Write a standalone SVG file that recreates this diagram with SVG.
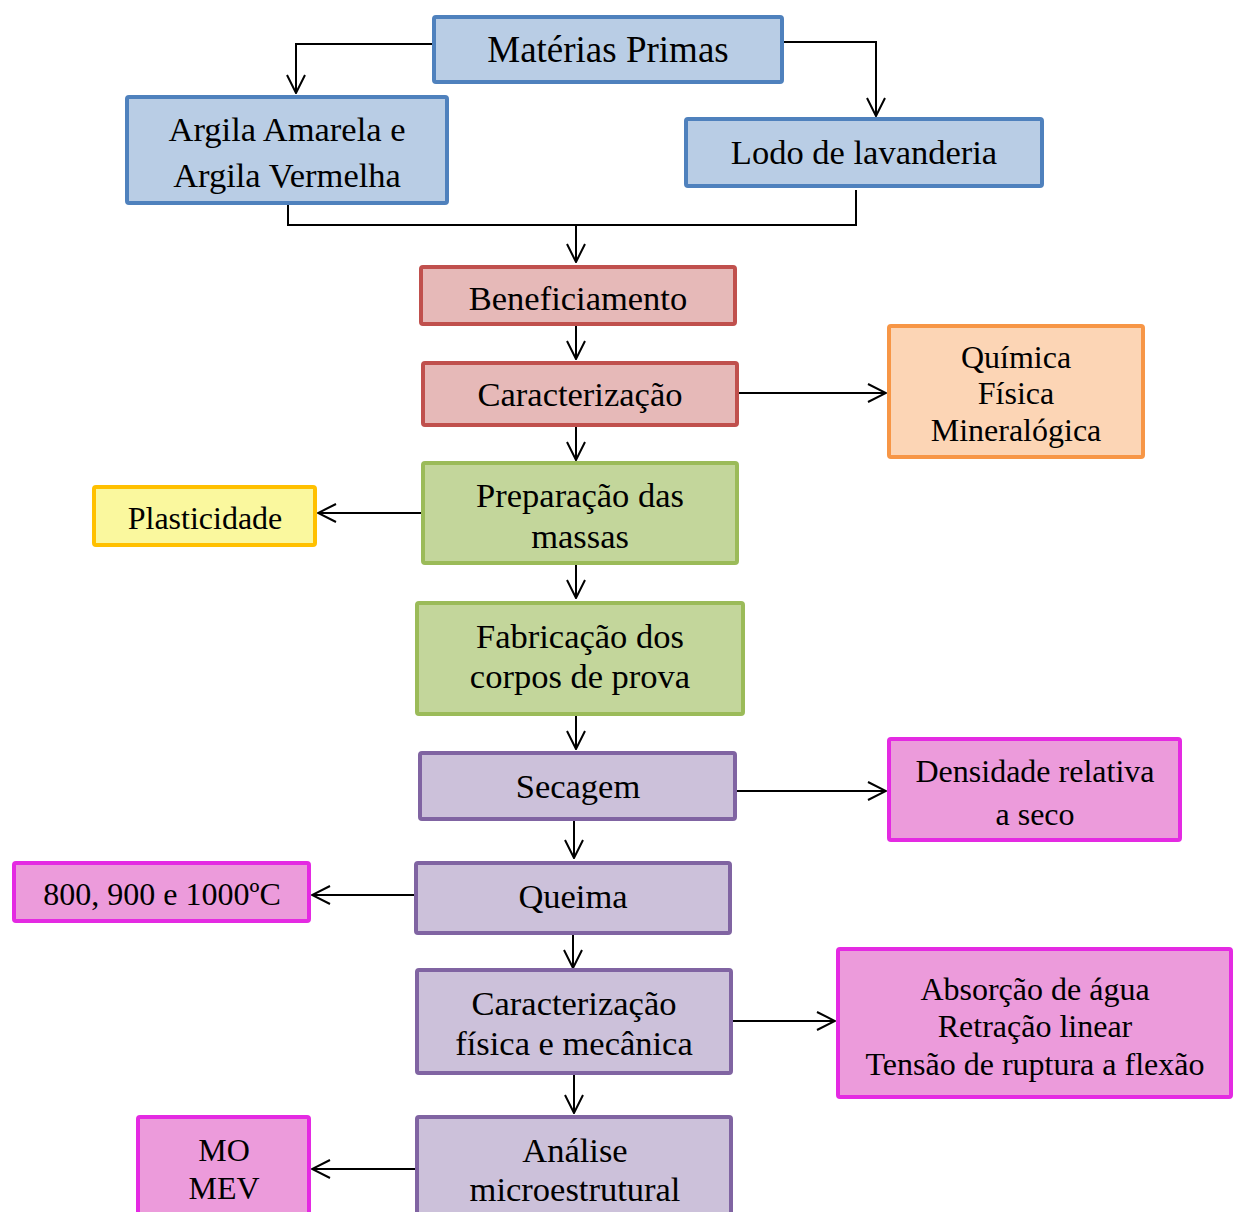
<svg xmlns="http://www.w3.org/2000/svg" width="1237" height="1212" viewBox="0 0 1237 1212">
<defs>
<style>
.t{font-family:"Liberation Serif","Times New Roman",serif;fill:#000;text-anchor:middle}
.m{font-size:34.5px}
.s{font-size:32px}
.big{font-size:37px}
rect{stroke-width:4}
.blue{fill:#B9CDE5;stroke:#4F81BD}
.red{fill:#E6B9B8;stroke:#C0504D}
.orange{fill:#FCD5B5;stroke:#F79646}
.green{fill:#C3D69B;stroke:#9BBB59}
.yellow{fill:#FAF89E;stroke:#FFC000}
.purple{fill:#CCC1DA;stroke:#8064A2}
.pink{fill:#EC9BDB;stroke:#E42AE2}
.c{fill:none;stroke:#000;stroke-width:2}
</style>
<marker id="a" viewBox="0 0 20 20" refX="19" refY="10" markerWidth="20" markerHeight="20" markerUnits="userSpaceOnUse" orient="auto">
<path d="M1,1 L19,10 L1,19" fill="none" stroke="#000" stroke-width="2"/>
</marker>
</defs>
<rect width="1237" height="1212" fill="#fff"/>
<g id="connectors">
<path class="c" d="M432,44 H296 V93" marker-end="url(#a)"/>
<path class="c" d="M784,42 H876 V116" marker-end="url(#a)"/>
<path class="c" d="M288,205 V225 H856 V190"/>
<path class="c" d="M576,225 V262" marker-end="url(#a)"/>
<path class="c" d="M576,326 V359" marker-end="url(#a)"/>
<path class="c" d="M576,427 V460" marker-end="url(#a)"/>
<path class="c" d="M739,393 H886" marker-end="url(#a)"/>
<path class="c" d="M421,513 H318" marker-end="url(#a)"/>
<path class="c" d="M576,565 V598" marker-end="url(#a)"/>
<path class="c" d="M576,716 V749" marker-end="url(#a)"/>
<path class="c" d="M737,791 H886" marker-end="url(#a)"/>
<path class="c" d="M574,821 V858" marker-end="url(#a)"/>
<path class="c" d="M414,895 H312" marker-end="url(#a)"/>
<path class="c" d="M573,935 V968" marker-end="url(#a)"/>
<path class="c" d="M733,1021 H835" marker-end="url(#a)"/>
<path class="c" d="M574,1075 V1113" marker-end="url(#a)"/>
<path class="c" d="M415,1169 H312" marker-end="url(#a)"/>
</g>
<g id="materias"><rect class="blue" x="434" y="17" width="348" height="65" rx="2"/><text class="t big" x="608" y="62">Matérias Primas</text></g>
<g id="argila"><rect class="blue" x="127" y="97" width="320" height="106" rx="2"/><text class="t m" x="287" y="141">Argila Amarela e</text><text class="t m" x="287" y="187">Argila Vermelha</text></g>
<g id="lodo"><rect class="blue" x="686" y="119" width="356" height="67" rx="2"/><text class="t m" x="864" y="164">Lodo de lavanderia</text></g>
<g id="beneficiamento"><rect class="red" x="421" y="267" width="314" height="57" rx="2"/><text class="t m" x="578" y="310">Beneficiamento</text></g>
<g id="caracterizacao"><rect class="red" x="423" y="363" width="314" height="62" rx="2"/><text class="t m" x="580" y="406">Caracterização</text></g>
<g id="quimica"><rect class="orange" x="889" y="326" width="254" height="131" rx="2"/><text class="t s" x="1016" y="368">Química</text><text class="t s" x="1016" y="404">Física</text><text class="t s" x="1016" y="441">Mineralógica</text></g>
<g id="preparacao"><rect class="green" x="423" y="463" width="314" height="100" rx="2"/><text class="t m" x="580" y="507">Preparação das</text><text class="t m" x="580" y="548">massas</text></g>
<g id="plasticidade"><rect class="yellow" x="94" y="487" width="221" height="58" rx="2"/><text class="t s" x="205" y="529">Plasticidade</text></g>
<g id="fabricacao"><rect class="green" x="417" y="603" width="326" height="111" rx="2"/><text class="t m" x="580" y="648">Fabricação dos</text><text class="t m" x="580" y="688">corpos de prova</text></g>
<g id="secagem"><rect class="purple" x="420" y="753" width="315" height="66" rx="2"/><text class="t m" x="578" y="798">Secagem</text></g>
<g id="densidade"><rect class="pink" x="889" y="739" width="291" height="101" rx="2"/><text class="t s" x="1035" y="782">Densidade relativa</text><text class="t s" x="1035" y="825">a seco</text></g>
<g id="temperaturas"><rect class="pink" x="14" y="863" width="295" height="58" rx="2"/><text class="t s" x="162" y="905">800, 900 e 1000ºC</text></g>
<g id="queima"><rect class="purple" x="416" y="863" width="314" height="70" rx="2"/><text class="t m" x="573" y="908">Queima</text></g>
<g id="caract-fisica"><rect class="purple" x="417" y="970" width="314" height="103" rx="2"/><text class="t m" x="574" y="1015">Caracterização</text><text class="t m" x="574" y="1055">física e mecânica</text></g>
<g id="absorcao"><rect class="pink" x="838" y="949" width="393" height="148" rx="2"/><text class="t s" x="1035" y="1000">Absorção de água</text><text class="t s" x="1035" y="1037">Retração linear</text><text class="t s" x="1035" y="1075">Tensão de ruptura a flexão</text></g>
<g id="analise"><rect class="purple" x="417" y="1117" width="314" height="110" rx="2"/><text class="t m" x="575" y="1162">Análise</text><text class="t m" x="575" y="1201">microestrutural</text></g>
<g id="mo-mev"><rect class="pink" x="138" y="1117" width="171" height="110" rx="2"/><text class="t s" x="224" y="1161">MO</text><text class="t s" x="224" y="1199">MEV</text></g>
</svg>
